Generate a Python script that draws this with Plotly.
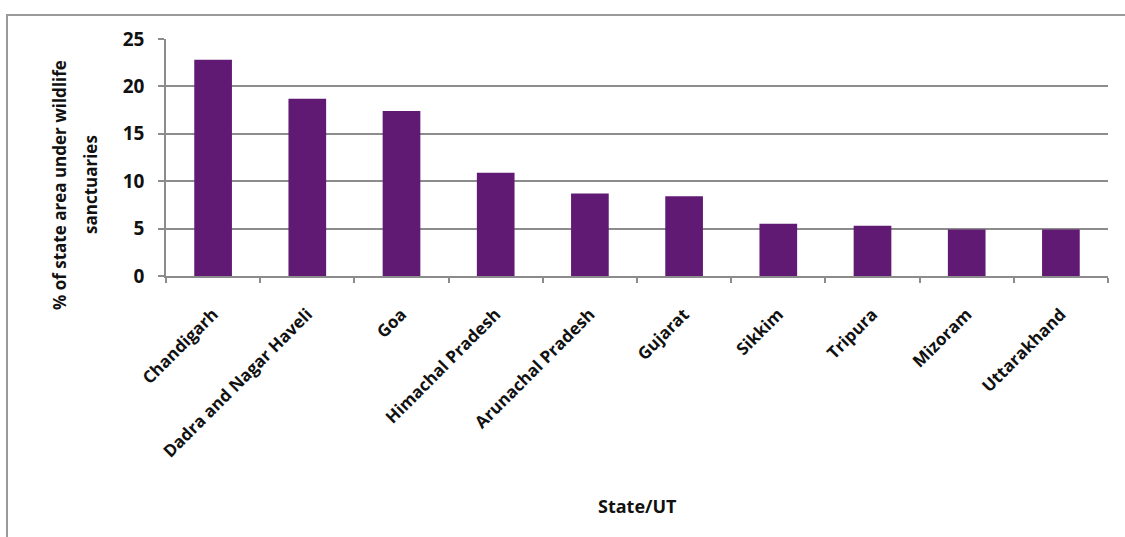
import plotly.graph_objects as go

# Share of each state's area under wildlife sanctuaries (%)
states = ["Chandigarh", "Dadra and Nagar Haveli", "Goa", "Himachal Pradesh",
          "Arunachal Pradesh", "Gujarat", "Sikkim", "Tripura", "Mizoram", "Uttarakhand"]
pct_area = [22.8, 18.7, 17.4, 10.9, 8.7, 8.4, 5.5, 5.3, 4.9, 4.9]
y_ticks = [0, 5, 10, 15, 20, 25]
y_title_lines = ["% of state area under wildlife", "sanctuaries"]
x_title = "State/UT"

BAR = "#611a73"
GRID = "#8c8c8c"
TEXT = "#111111"
FONT = "Open Sans"

W, H = 1125, 537
ML, MR, MT, MB = 166, 17, 39, 261
pw = W - ML - MR
ph = H - MT - MB


def px_x(px):
    return (px - ML) / pw


def px_y(py):
    return (H - MB - py) / ph


fig = go.Figure(go.Bar(
    x=states, y=pct_area,
    marker=dict(color=BAR, line=dict(width=0)),
    width=0.4,
))

# two-line rotated y title, each line placed on its own
annotations = [
    dict(text=f"<b>{line}</b>", textangle=-90, showarrow=False,
         xref="paper", yref="paper", x=px_x(cx), y=px_y(185),
         xanchor="center", yanchor="middle",
         font=dict(family=FONT, size=17, color=TEXT))
    for line, cx in zip(y_title_lines, [59, 90])
]
annotations.append(dict(
    text=f"<b>{x_title}</b>", showarrow=False,
    xref="paper", yref="paper", x=0.5, y=px_y(506),
    xanchor="center", yanchor="middle",
    font=dict(family=FONT, size=18, color=TEXT)))

fig.update_layout(
    width=W, height=H,
    margin=dict(l=ML, r=MR, t=MT, b=MB, pad=0),
    paper_bgcolor="white", plot_bgcolor="white",
    showlegend=False,
    font=dict(family=FONT, color=TEXT),
    xaxis=dict(
        type="category",
        tickson="boundaries",
        ticks="outside", ticklen=5, tickcolor=GRID, tickwidth=1.5,
        tickangle=-45,
        tickfont=dict(family=FONT, size=17, color=TEXT, weight="bold"),
        ticklabelstandoff=20,
        showline=True, linecolor=GRID, linewidth=1.5,
        showgrid=False,
    ),
    yaxis=dict(
        range=[0, 25], tickvals=y_ticks,
        ticks="outside", ticklen=6, tickcolor=GRID, tickwidth=1.5,
        tickfont=dict(family=FONT, size=19, color=TEXT, weight="bold"),
        ticklabelstandoff=10,
        showline=True, linecolor=GRID, linewidth=1.5,
        showgrid=True, gridcolor=GRID, gridwidth=1.5,
        zeroline=False,
    ),
    annotations=annotations,
    shapes=[dict(
        type="rect", xref="paper", yref="paper",
        x0=px_x(7), x1=px_x(W + 20),
        y0=px_y(H + 20), y1=px_y(15),
        line=dict(color="#9a9a9a", width=2), fillcolor="rgba(0,0,0,0)",
        layer="below",
    )],
)

fig.write_html("out.html")
